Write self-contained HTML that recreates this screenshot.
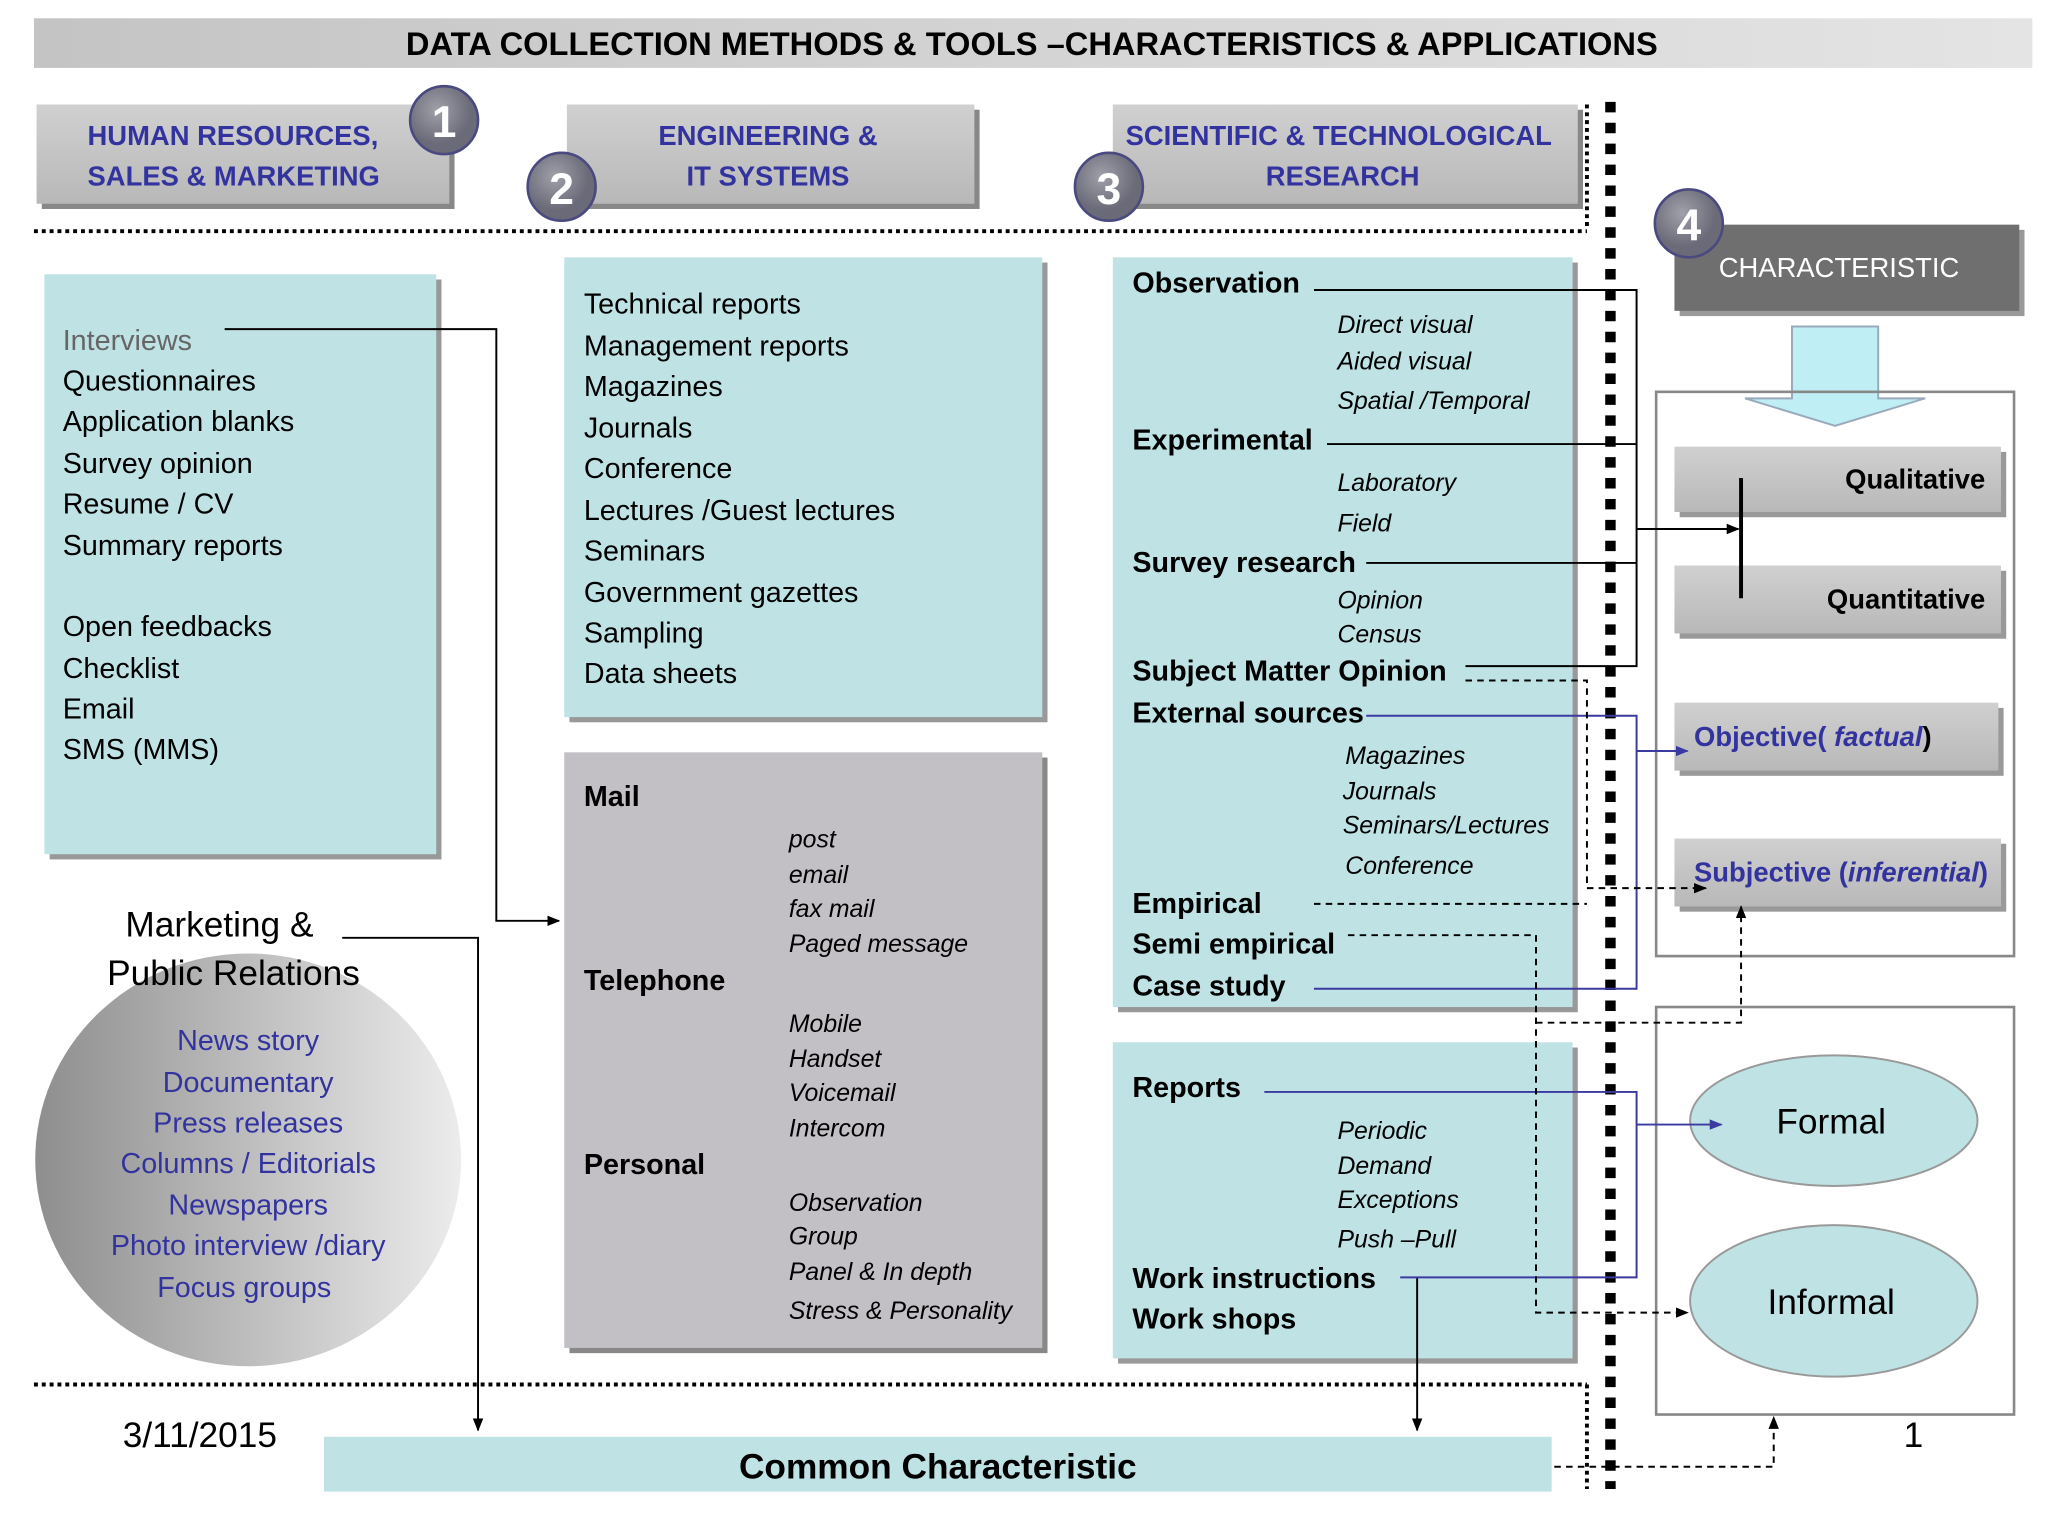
<!DOCTYPE html>
<html><head><meta charset="utf-8"><style>
html,body{margin:0;padding:0;background:#fff;}
svg{display:block;}
text{font-family:"Liberation Sans","DejaVu Sans",sans-serif;}
</style></head><body>
<svg width="2048" height="1536" viewBox="0 0 1568 1176" xmlns="http://www.w3.org/2000/svg">
<defs>
<linearGradient id="tg" x1="0" x2="1"><stop offset="0" stop-color="#c4c4c4"/><stop offset="1" stop-color="#e4e4e4"/></linearGradient>
<linearGradient id="gb" x1="0" x2="0" y1="0" y2="1"><stop offset="0" stop-color="#d0d0d0"/><stop offset="1" stop-color="#b8b8b8"/></linearGradient>
<linearGradient id="cg" x1="0" x2="1"><stop offset="0" stop-color="#8e8e8e"/><stop offset="1" stop-color="#ececec"/></linearGradient>
<radialGradient id="nc" cx="0.4" cy="0.35"><stop offset="0" stop-color="#a0a0aa"/><stop offset="1" stop-color="#6a6a78"/></radialGradient>
<marker id="ab" markerWidth="10" markerHeight="10" refX="9" refY="5" orient="auto" markerUnits="userSpaceOnUse"><path d="M0,1 L10,5 L0,9 z" fill="#000"/></marker>
<marker id="au" markerWidth="10" markerHeight="10" refX="9" refY="5" orient="auto" markerUnits="userSpaceOnUse"><path d="M0,1 L10,5 L0,9 z" fill="#3a3aa0"/></marker>
</defs>

<!-- title -->
<rect x="26" y="14" width="1530" height="38" fill="url(#tg)"/>
<text x="790" y="42" text-anchor="middle" font-size="25" font-weight="bold">DATA COLLECTION METHODS &amp; TOOLS –CHARACTERISTICS &amp; APPLICATIONS</text>

<!-- header boxes -->
<g font-size="21" font-weight="bold" fill="#3333a0">
<rect x="32" y="84" width="316" height="76" fill="#888"/><rect x="28" y="80" width="316" height="76" fill="url(#gb)"/>
<text x="67" y="111">HUMAN RESOURCES,</text><text x="67" y="142">SALES &amp; MARKETING</text>
<rect x="438" y="84" width="312" height="76" fill="#888"/><rect x="434" y="80" width="312" height="76" fill="url(#gb)"/>
<text x="588" y="111" text-anchor="middle">ENGINEERING &amp;</text><text x="588" y="142" text-anchor="middle">IT SYSTEMS</text>
<rect x="856" y="84" width="356" height="76" fill="#888"/><rect x="852" y="80" width="356" height="76" fill="url(#gb)"/>
<text x="1025" y="111" text-anchor="middle">SCIENTIFIC &amp; TECHNOLOGICAL</text><text x="1028" y="142" text-anchor="middle">RESEARCH</text>
</g>
<g font-size="34" font-weight="bold" fill="#fff" text-anchor="middle" stroke="#4a4a80" stroke-width="2">
<circle cx="340" cy="92" r="26" fill="url(#nc)"/><text x="340" y="105" stroke="none">1</text>
<circle cx="430" cy="143" r="26" fill="url(#nc)"/><text x="430" y="156" stroke="none">2</text>
<circle cx="849" cy="143" r="26" fill="url(#nc)"/><text x="849" y="156" stroke="none">3</text>
</g>

<!-- dotted lines -->
<line x1="26" y1="177" x2="1215" y2="177" stroke="#000" stroke-width="3" stroke-dasharray="3 3"/>
<line x1="26" y1="1060" x2="1215" y2="1060" stroke="#000" stroke-width="3" stroke-dasharray="3 3"/>
<line x1="1215" y1="80" x2="1215" y2="176" stroke="#000" stroke-width="3" stroke-dasharray="3 3"/>
<line x1="1215" y1="1060" x2="1215" y2="1140" stroke="#000" stroke-width="3" stroke-dasharray="3 3"/>
<line x1="1233" y1="78" x2="1233" y2="1140" stroke="#000" stroke-width="8" stroke-dasharray="8 8"/>

<!-- characteristic -->
<rect x="1286" y="176" width="264" height="66" fill="#999"/>
<rect x="1282" y="172" width="264" height="66" fill="#6f6f6f"/>
<text x="1408" y="212" text-anchor="middle" font-size="21" fill="#fff">CHARACTERISTIC</text>
<circle cx="1293" cy="171" r="26" fill="url(#nc)" stroke="#4a4a80" stroke-width="2"/>
<text x="1293" y="184" text-anchor="middle" font-size="34" font-weight="bold" fill="#fff">4</text>
<path d="M1372,250 L1438,250 L1438,305 L1474,305 L1405,326 L1336,305 L1372,305 Z" fill="#bfeff5" stroke="#9ab" stroke-width="1.5"/>
<rect x="1268" y="300" width="274" height="432" fill="none" stroke="#888" stroke-width="2"/>
<rect x="1268" y="771" width="274" height="312" fill="none" stroke="#888" stroke-width="2"/>

<g font-size="21" font-weight="bold">
<rect x="1286" y="346" width="250" height="50" fill="#999"/><rect x="1282" y="342" width="250" height="50" fill="url(#gb)"/>
<text x="1520" y="374" text-anchor="end">Qualitative</text>
<rect x="1286" y="437" width="250" height="52" fill="#999"/><rect x="1282" y="433" width="250" height="52" fill="url(#gb)"/>
<text x="1520" y="466" text-anchor="end">Quantitative</text>
<rect x="1286" y="542" width="248" height="52" fill="#999"/><rect x="1282" y="538" width="248" height="52" fill="url(#gb)"/>
<text x="1297" y="571" fill="#3333a0">Objective( <tspan font-style="italic">factual</tspan><tspan fill="#000">)</tspan></text>
<rect x="1286" y="646" width="250" height="52" fill="#999"/><rect x="1282" y="642" width="250" height="52" fill="url(#gb)"/>
<text x="1297" y="675" fill="#3333a0">Subjective (<tspan font-style="italic">inferential</tspan>)</text>
</g>
<line x1="1333" y1="366" x2="1333" y2="458" stroke="#000" stroke-width="3"/>

<ellipse cx="1404" cy="858" rx="110" ry="50" fill="#bfe3e5" stroke="#999" stroke-width="1.5"/>
<text x="1402" y="868" text-anchor="middle" font-size="27">Formal</text>
<ellipse cx="1404" cy="996" rx="110" ry="58" fill="#bfe3e5" stroke="#999" stroke-width="1.5"/>
<text x="1402" y="1006" text-anchor="middle" font-size="27">Informal</text>
<text x="1465" y="1108" text-anchor="middle" font-size="27">1</text>
<text x="94" y="1108" font-size="27">3/11/2015</text>

<!-- column 1 -->
<rect x="38" y="214" width="300" height="444" fill="#999"/>
<rect x="34" y="210" width="300" height="444" fill="#bfe3e5"/>
<g font-size="22">
<text x="48" y="268" fill="#666">Interviews</text>
<text x="48" y="299">Questionnaires</text><text x="48" y="330">Application blanks</text>
<text x="48" y="362">Survey opinion</text><text x="48" y="393">Resume / CV</text>
<text x="48" y="425">Summary reports</text><text x="48" y="487">Open feedbacks</text>
<text x="48" y="519">Checklist</text><text x="48" y="550">Email</text><text x="48" y="581">SMS (MMS)</text>
</g>
<ellipse cx="190" cy="888" rx="163" ry="158" fill="url(#cg)"/>
<text x="96" y="717" font-size="27">Marketing &amp;</text>
<text x="82" y="754" font-size="27">Public Relations</text>
<g font-size="22" fill="#3333a0" text-anchor="middle">
<text x="190" y="804">News story</text><text x="190" y="836">Documentary</text>
<text x="190" y="867">Press releases</text><text x="190" y="898">Columns / Editorials</text>
<text x="190" y="930">Newspapers</text><text x="190" y="961">Photo interview /diary</text>
<text x="187" y="993">Focus groups</text>
</g>

<!-- column 2 -->
<rect x="436" y="201" width="366" height="352" fill="#999"/>
<rect x="432" y="197" width="366" height="352" fill="#bfe3e5"/>
<g font-size="22">
<text x="447" y="240">Technical reports</text><text x="447" y="272">Management reports</text>
<text x="447" y="303">Magazines</text><text x="447" y="335">Journals</text>
<text x="447" y="366">Conference</text><text x="447" y="398">Lectures /Guest lectures</text>
<text x="447" y="429">Seminars</text><text x="447" y="461">Government gazettes</text>
<text x="447" y="492">Sampling</text><text x="447" y="523">Data sheets</text>
</g>
<rect x="436" y="580" width="366" height="456" fill="#888"/>
<rect x="432" y="576" width="366" height="456" fill="#c3c0c5"/>
<g font-size="22" font-weight="bold">
<text x="447" y="617">Mail</text><text x="447" y="758">Telephone</text><text x="447" y="899">Personal</text>
</g>
<g font-size="19" font-style="italic">
<text x="604" y="649">post</text><text x="604" y="676">email</text><text x="604" y="702">fax mail</text><text x="604" y="729">Paged message</text>
<text x="604" y="790">Mobile</text><text x="604" y="817">Handset</text><text x="604" y="843">Voicemail</text><text x="604" y="870">Intercom</text>
<text x="604" y="927">Observation</text><text x="604" y="953">Group</text><text x="604" y="980">Panel &amp; In depth</text><text x="604" y="1010">Stress &amp; Personality</text>
</g>

<!-- column 3 -->
<rect x="856" y="201" width="352" height="574" fill="#999"/>
<rect x="852" y="197" width="352" height="574" fill="#bfe3e5"/>
<g font-size="22" font-weight="bold">
<text x="867" y="224">Observation</text><text x="867" y="344">Experimental</text>
<text x="867" y="438">Survey research</text><text x="867" y="521">Subject Matter Opinion</text>
<text x="867" y="553">External sources</text><text x="867" y="699">Empirical</text>
<text x="867" y="730">Semi empirical</text><text x="867" y="762">Case study</text>
</g>
<g font-size="19" font-style="italic">
<text x="1024" y="255">Direct visual</text><text x="1024" y="283">Aided visual</text><text x="1024" y="313">Spatial /Temporal</text>
<text x="1024" y="376">Laboratory</text><text x="1024" y="407">Field</text>
<text x="1024" y="466">Opinion</text><text x="1024" y="492">Census</text>
<text x="1030" y="585">Magazines</text><text x="1028" y="612">Journals</text><text x="1028" y="638">Seminars/Lectures</text><text x="1030" y="669">Conference</text>
</g>
<rect x="856" y="802" width="352" height="242" fill="#999"/>
<rect x="852" y="798" width="352" height="242" fill="#bfe3e5"/>
<g font-size="22" font-weight="bold">
<text x="867" y="840">Reports</text><text x="867" y="986">Work instructions</text><text x="867" y="1017">Work shops</text>
</g>
<g font-size="19" font-style="italic">
<text x="1024" y="872">Periodic</text><text x="1024" y="899">Demand</text><text x="1024" y="925">Exceptions</text><text x="1024" y="955">Push –Pull</text>
</g>

<!-- common characteristic -->
<rect x="248" y="1100" width="940" height="42" fill="#bfe3e5"/>
<text x="718" y="1132" text-anchor="middle" font-size="27" font-weight="bold">Common Characteristic</text>

<!-- connectors black -->
<g fill="none" stroke="#000" stroke-width="1.5">
<polyline points="172,252 380,252 380,705 428,705" marker-end="url(#ab)"/>
<polyline points="262,718 366,718 366,1095" marker-end="url(#ab)"/>
<polyline points="1006,222 1253,222 1253,510 1122,510"/>
<line x1="1016" y1="340" x2="1253" y2="340"/>
<line x1="1046" y1="431" x2="1253" y2="431"/>
<line x1="1253" y1="405" x2="1331" y2="405" marker-end="url(#ab)"/>
<line x1="1085" y1="978" x2="1085" y2="1095" marker-end="url(#ab)"/>
</g>
<!-- connectors blue -->
<g fill="none" stroke="#3a3aa0" stroke-width="1.5">
<polyline points="1046,548 1253,548 1253,757 1006,757"/>
<line x1="1253" y1="575" x2="1292" y2="575" marker-end="url(#au)"/>
<polyline points="968,836 1253,836 1253,978 1072,978"/>
<line x1="1253" y1="861" x2="1318" y2="861" marker-end="url(#au)"/>
</g>
<!-- dashed -->
<g fill="none" stroke="#000" stroke-width="1.5" stroke-dasharray="5 4">
<polyline points="1122,521 1215,521 1215,680 1306,680" marker-end="url(#ab)"/>
<line x1="1006" y1="692" x2="1215" y2="692"/>
<polyline points="1032,716 1176,716 1176,1005 1292,1005" marker-end="url(#ab)"/>
<polyline points="1176,783 1333,783 1333,694" marker-end="url(#ab)"/>
<polyline points="1190,1123 1358,1123 1358,1085" marker-end="url(#ab)"/>
</g>
</svg>
</body></html>
